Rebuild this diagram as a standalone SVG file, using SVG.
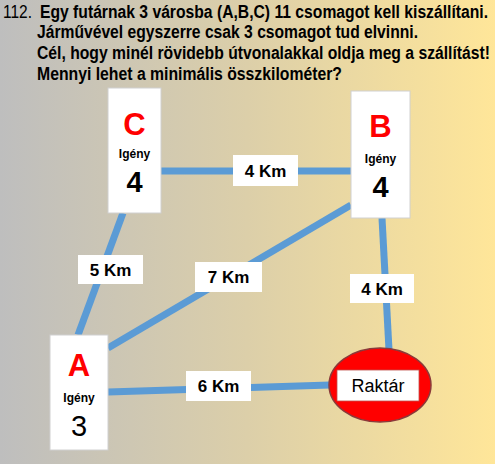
<svg xmlns="http://www.w3.org/2000/svg" width="495" height="464" viewBox="0 0 495 464">
<defs>
<linearGradient id="bg" x1="0" y1="0" x2="1" y2="0">
<stop offset="0" stop-color="#BEBEBE"/>
<stop offset="0.5" stop-color="#DCCFA9"/>
<stop offset="1" stop-color="#FFE699"/>
</linearGradient>
</defs>
<style>
.t{font-family:"Liberation Sans",Arial,sans-serif;font-size:17.5px;font-weight:bold;fill:#000}
.box{fill:#fff;stroke:#d0d0d0;stroke-width:1}
.big{font-family:"Liberation Sans",Arial,sans-serif;font-weight:bold;font-size:31px;fill:#f00;text-anchor:middle}
.ig{font-family:"Liberation Sans",Arial,sans-serif;font-weight:bold;font-size:12px;fill:#000;text-anchor:middle}
.num{font-family:"Liberation Sans",Arial,sans-serif;font-weight:bold;font-size:29px;fill:#000;text-anchor:middle}
.edge{stroke:#5B9BD5;stroke-width:7;fill:none}
.lb{fill:#fff}
.lt{font-family:"Liberation Sans",Arial,sans-serif;font-weight:bold;font-size:17px;fill:#000;text-anchor:middle}
</style>
<rect x="0" y="0" width="495" height="464" fill="url(#bg)"/>
<g id="title">
<text class="t" x="3" y="18" style="font-weight:normal" textLength="29" lengthAdjust="spacingAndGlyphs">112.</text>
<text class="t" x="40" y="18" textLength="448" lengthAdjust="spacingAndGlyphs">Egy futárnak 3 városba (A,B,C) 11 csomagot kell kiszállítani.</text>
<text class="t" x="37" y="38" textLength="381" lengthAdjust="spacingAndGlyphs">Járművével egyszerre csak 3 csomagot tud elvinni.</text>
<text class="t" x="37" y="59" textLength="453" lengthAdjust="spacingAndGlyphs">Cél, hogy minél rövidebb útvonalakkal oldja meg a szállítást!</text>
<text class="t" x="37" y="80" textLength="305" lengthAdjust="spacingAndGlyphs">Mennyi lehet a minimális összkilométer?</text>
</g>
<g id="connectors">
<line class="edge" x1="161" y1="171" x2="351" y2="171"/>
<line class="edge" x1="123" y1="213" x2="78" y2="335"/>
<line class="edge" x1="108" y1="348" x2="351" y2="205"/>
<line class="edge" x1="382" y1="218" x2="389" y2="350"/>
<line class="edge" x1="108" y1="392" x2="330" y2="385"/>
<rect class="lb" x="233" y="155" width="65" height="31"/>
<text class="lt" x="265.5" y="177">4 Km</text>
<rect class="lb" x="78" y="255" width="65" height="29"/>
<text class="lt" x="110.5" y="276">5 Km</text>
<rect class="lb" x="195" y="262" width="67" height="30"/>
<text class="lt" x="228.5" y="283">7 Km</text>
<rect class="lb" x="350" y="274" width="64" height="29"/>
<text class="lt" x="382" y="295">4 Km</text>
<rect class="lb" x="186" y="371" width="65" height="30"/>
<text class="lt" x="218.5" y="392">6 Km</text>
</g>
<g id="C">
<rect class="box" x="108" y="88" width="53" height="125"/>
<text class="big" x="134.5" y="135">C</text>
<text class="ig" x="134.5" y="158">Igény</text>
<text class="num" x="134.5" y="192">4</text>
</g>
<g id="B">
<rect class="box" x="351" y="91" width="59" height="127"/>
<text class="big" x="380.5" y="137">B</text>
<text class="ig" x="380.5" y="163">Igény</text>
<text class="num" x="380.5" y="197">4</text>
</g>
<g id="A">
<rect class="box" x="50" y="335" width="58" height="115"/>
<text class="big" x="79" y="376">A</text>
<text class="ig" x="79" y="402">Igény</text>
<text class="num" x="79" y="436" style="font-weight:normal">3</text>
</g>
<g id="Raktar">
<ellipse cx="380" cy="385" rx="51" ry="37" fill="#FF0000" stroke="#8B3A3A" stroke-width="1.5"/>
<rect x="337" y="370" width="82" height="31" fill="#fff" stroke="#c0504d" stroke-width="0.8"/>
<text x="378" y="392" font-family="Liberation Sans,Arial,sans-serif" font-size="18" text-anchor="middle" fill="#000">Raktár</text>
</g>
</svg>
